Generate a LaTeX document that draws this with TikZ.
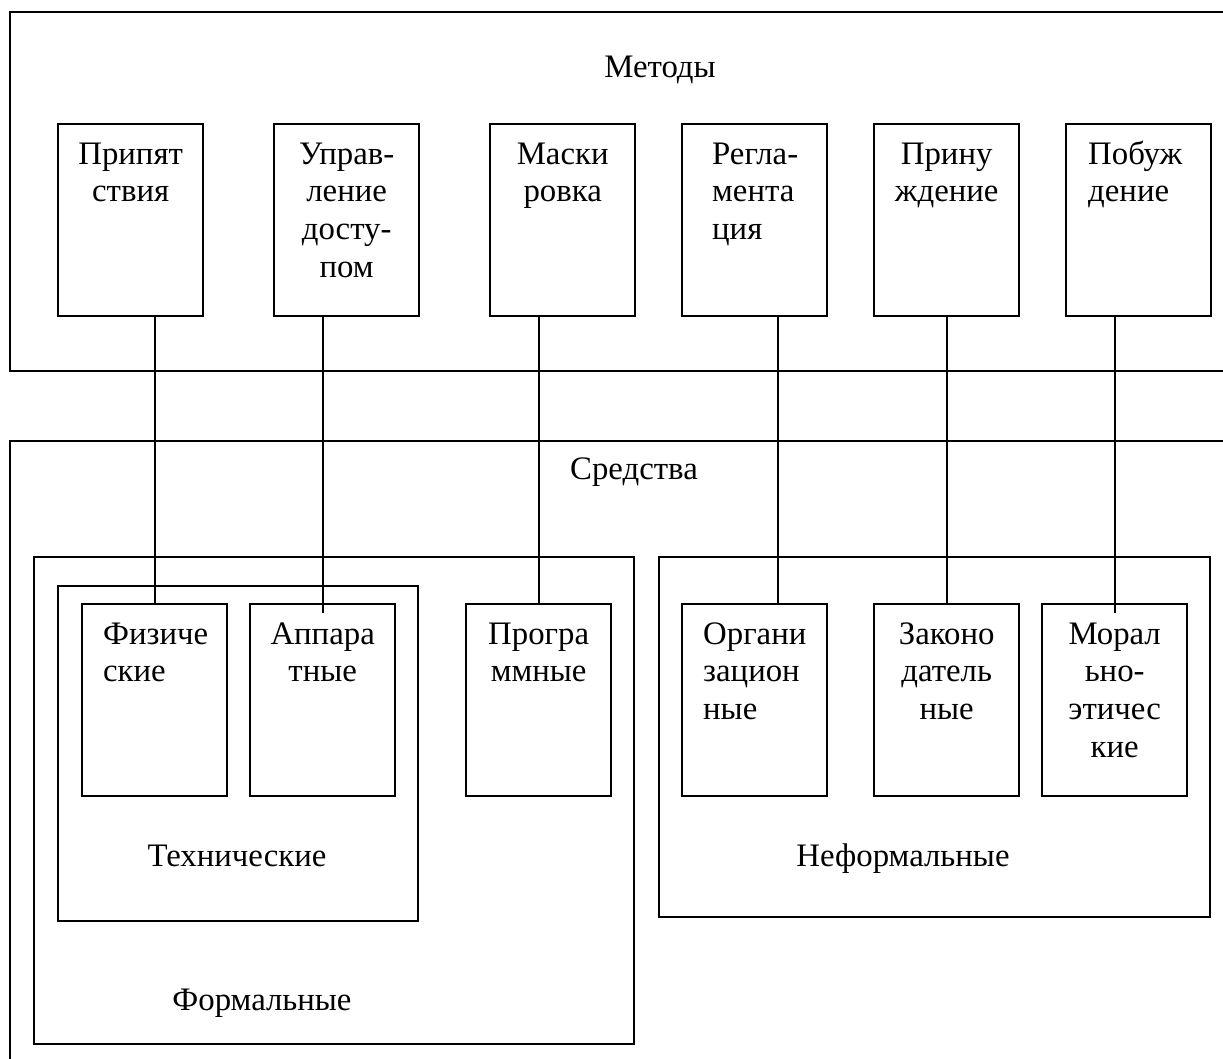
\documentclass[tikz,border=0pt]{standalone}
\usepackage{fontspec}
\setmainfont{Liberation Serif}
\usetikzlibrary{positioning}

\newcommand{\px}{0.015cm}

\begin{document}
\begin{tikzpicture}[x=0.015cm, y=-0.015cm, line width=1pt,
  frame/.style={draw, inner sep=0pt, anchor=north west},
  tbox/.style={draw, inner sep=0pt, anchor=north west, minimum width=145*\px, minimum height=192*\px},
  tlbl/.style={font=\fontsize{14}{16.1}\selectfont, inner sep=0pt, align=center, anchor=base},
  blbl/.style={tlbl, anchor=north},
  llbl/.style={tlbl, align=left, anchor=north west}]
\clip (0,0) rectangle (1223,1059);
\useasboundingbox (0,0) rectangle (1223,1059);

% outer frames
\node[frame, minimum width=1231*\px, minimum height=359*\px] (metody) at (9,11) {};
\node[frame, minimum width=1231*\px, minimum height=640*\px] (sredstva) at (9,440) {};
\node[frame, minimum width=600*\px, minimum height=487*\px] (formal) at (33,556) {};
\node[frame, minimum width=360*\px, minimum height=335*\px] (tekh) at (57,585) {};
\node[frame, minimum width=551*\px, minimum height=360*\px] (neformal) at (658,556) {};

\node[tlbl] (metodyt) at (660,78) {Методы};
\node[tlbl] (sredstvat) at (634,480) {Средства};
\node[tlbl] (tekht) at (237,866) {Технические};
\node[tlbl] (formalt) at (262,1010) {Формальные};
\node[tlbl] (neformalt) at (903,866) {Неформальные};

% methods
\node[tbox] (prip) at (57,123) {};
\node[tbox] (upr) at (273,123) {};
\node[tbox] (mask) at (489,123) {};
\node[tbox] (regl) at (681,123) {};
\node[tbox] (prin) at (873,123) {};
\node[tbox] (pob) at (1065,123) {};

\node[blbl] (pript) at ([yshift=-13.6*\px]prip.north) {\strut Припят\\ствия};
\node[blbl] (uprt) at ([yshift=-13.6*\px]upr.north) {\strut Управ-\\ление\\досту-\\пом};
\node[blbl] (maskt) at ([yshift=-13.6*\px]mask.north) {\strut Маски\\ровка};
\node[llbl] (reglt) at ([xshift=30*\px, yshift=-13.6*\px]regl.north west) {\strut Регла-\\мента\\ция};
\node[blbl] (print) at ([yshift=-13.6*\px]prin.north) {\strut Прину\\ждение};
\node[llbl] (pobt) at ([xshift=22*\px, yshift=-13.6*\px]pob.north west) {\strut Побуж\\дение};

% means
\node[tbox] (fiz) at (81,603) {};
\node[tbox] (app) at (249,603) {};
\node[tbox] (prog) at (465,603) {};
\node[tbox] (org) at (681,603) {};
\node[tbox] (zak) at (873,603) {};
\node[tbox] (mor) at (1041,603) {};

\node[llbl] (fizt) at ([xshift=21*\px, yshift=-13.6*\px]fiz.north west) {\strut Физиче\\ские};
\node[blbl] (appt) at ([yshift=-13.6*\px]app.north) {\strut Аппара\\тные};
\node[blbl] (progt) at ([yshift=-13.6*\px]prog.north) {\strut Програ\\ммные};
\node[llbl] (orgt) at ([xshift=21*\px, yshift=-13.6*\px]org.north west) {\strut Органи\\зацион\\ные};
\node[blbl] (zakt) at ([yshift=-13.6*\px]zak.north) {\strut Законо\\датель\\ные};
\node[blbl] (mort) at ([yshift=-13.6*\px]mor.north) {\strut Морал\\ьно-\\этичес\\кие};

% links
\draw (prip.south -| fiz.north) -- (fiz.north);
\draw (upr.south -| app.north) -- ([yshift=-10*\px]app.north);
\draw (mask.south -| prog.north) -- (prog.north);
\draw ([xshift=23.5*\px]regl.south) -- ([xshift=23.5*\px]org.north);
\draw (prin.south -| zak.north) -- (zak.north);
\draw (pob.south -| mor.north) -- ([yshift=-10*\px]mor.north);

\end{tikzpicture}
\end{document}
